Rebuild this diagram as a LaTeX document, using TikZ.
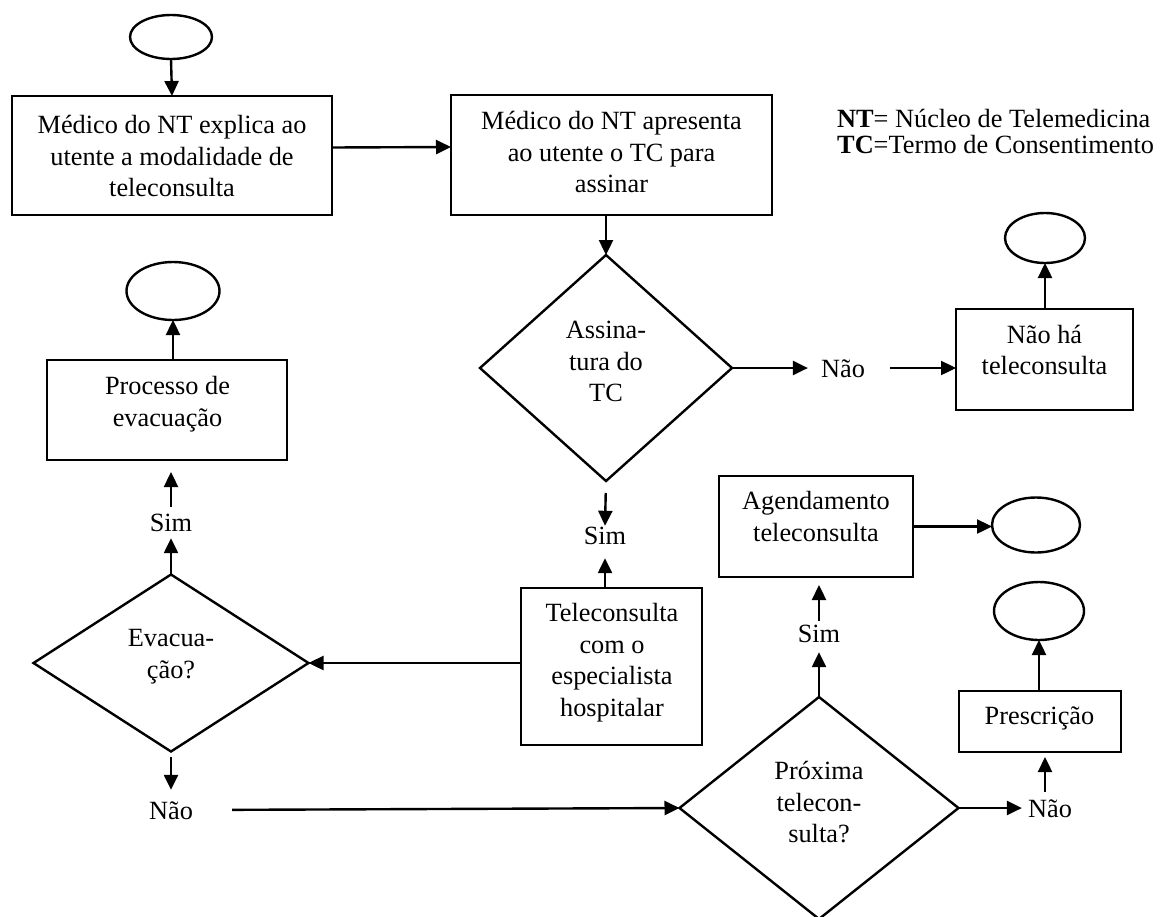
\documentclass[tikz,border=0pt]{standalone}
\usepackage{fontspec}
\setmainfont{Liberation Serif}
\usetikzlibrary{arrows.meta,shapes.geometric}
\newcommand\dfont{\fontsize{26.3}{31.5}\selectfont}
\newcommand\stack[1]{\begin{tabular}{@{}c@{}}#1\end{tabular}}

\begin{document}
\begin{tikzpicture}[x=1pt,y=-1pt,
  box/.style={draw, line width=2.6pt, rectangle, inner sep=0pt, outer sep=0pt},
  term/.style={draw, line width=2.4pt, ellipse, inner sep=0pt, outer sep=0pt},
  choice/.style={draw, line width=2.4pt, diamond, inner sep=0pt, outer sep=0pt},
  txt/.style={font=\dfont, inner sep=0pt},
  lbl/.style={font=\dfont, inner sep=0pt, text height=18pt, text depth=0pt},
  arr/.style={line width=2.4pt, -{Triangle[length=15pt,width=14pt]}}]
\useasboundingbox (0,0) rectangle (1162,916);

% terminators
\node[term, minimum width=82pt, minimum height=44pt] (e0) at (171,37) {};
\node[term, minimum width=80pt, minimum height=50pt] (e1) at (1045,238) {};
\node[term, minimum width=93pt, minimum height=58pt] (e2) at (173,291) {};
\node[term, minimum width=88pt, minimum height=55pt] (e3) at (1036,525) {};
\node[term, minimum width=90pt, minimum height=58pt] (e4) at (1039,611) {};

% process boxes
\node[box, minimum width=320pt, minimum height=119pt] (b1) at (172,155.5) {};
\node[txt] (b1t) at (172,159) {\stack{Médico do NT explica ao\\utente a modalidade de\\teleconsulta}};
\node[box, minimum width=321pt, minimum height=120pt] (b2) at (611.5,155) {};
\node[txt] (b2t) at (611.5,155) {\stack{Médico do NT apresenta\\ao utente o TC para\\assinar}};
\node[box, minimum width=177pt, minimum height=101pt] (b3) at (1044.5,359.5) {};
\node[txt] (b3t) at (1044.5,352.5) {\stack{Não há\\teleconsulta}};
\node[box, minimum width=240pt, minimum height=100pt] (b4) at (167,410) {};
\node[txt] (b4t) at (167.5,404) {\stack{Processo de\\evacuação}};
\node[box, minimum width=194pt, minimum height=101pt] (b5) at (816,526.5) {};
\node[txt] (b5t) at (816,519) {\stack{Agendamento\\teleconsulta}};
\node[box, minimum width=181pt, minimum height=157pt] (tc) at (611.5,666.5) {};
\node[txt] (tct) at (612,662.5) {\stack{Teleconsulta\\com o\\especialista\\hospitalar}};
\node[box, minimum width=162pt, minimum height=61pt] (b6) at (1040,721.5) {};
\node[txt] (b6t) at (1039.5,718) {Prescrição};

% decisions
\node[choice, minimum width=252pt, minimum height=226pt] (d1) at (606,368) {};
\node[txt] (d1t) at (606,364) {\stack{Assina-\\tura do\\TC}};
\node[choice, minimum width=275pt, minimum height=177pt] (d2) at (171,663) {};
\node[txt] (d2t) at (171,656) {\stack{Evacua-\\ção?}};
\node[choice, minimum width=279pt, minimum height=222pt] (d3) at (819,808) {};
\node[txt] (d3t) at (819,805) {\stack{Próxima\\telecon-\\sulta?}};

% branch labels
\node[lbl] (nao1) at (843,368) {Não};
\node[lbl] (sim1) at (605,535) {Sim};
\node[lbl] (sim2) at (171,522) {Sim};
\node[lbl] (nao2) at (171,810) {Não};
\node[lbl] (sim3) at (819,633) {Sim};
\node[lbl] (nao3) at (1050,808) {Não};

% legend
\node[font=\dfont, inner sep=0pt, anchor=west] (legend) at (837,135)
  {\renewcommand\arraystretch{0.83}\begin{tabular}{@{}l@{}}\textbf{NT}= Núcleo de Telemedicina\\\textbf{TC}=Termo de Consentimento\end{tabular}};

% connectors
\draw[arr] (e0.south) -- (b1.north);
\draw[arr] ([yshift=8pt]b1.east) -- ([yshift=8pt]b2.west);
\draw[arr] (b2.south -| d1.north) -- (d1.north);
\draw[arr, shorten >=13pt] (d1.east) -- (nao1.west);
\draw[arr, shorten <=25pt] (nao1.east) -- (nao1.east -| b3.west);
\draw[arr] (b3.north -| e1.south) -- (e1.south);
\draw[arr, shorten <=12pt] (d1.south) -- (sim1.north);
\draw[arr, shorten >=14pt] (tc.north -| sim1.south) -- (sim1.south);
\draw[arr] (tc.west |- d2.east) -- (d2.east);
\draw[arr, shorten >=7pt] (d2.north) -- (sim2.south);
\draw[arr, shorten <=6pt, shorten >=12pt] (sim2.north) -- (sim2.north |- b4.south);
\draw[arr] (b4.north -| e2.south) -- (e2.south);
\draw[arr, shorten <=5pt, shorten >=11pt] (d2.south) -- (nao2.north);
\draw[arr, shorten <=39pt] (nao2.east) -- (d3.west);
\draw[arr, shorten >=10pt] (d3.north) -- (sim3.south);
\draw[arr, shorten <=3pt, shorten >=8pt] (sim3.north) -- (sim3.north |- b5.south);
\draw[arr] (b5.east) -- (b5.east -| e3.west);
\draw[arr, shorten >=6pt] (d3.east) -- (nao3.west);
\draw[arr, shorten <=7pt, shorten >=5pt] ([xshift=-5pt]nao3.north) -- ([xshift=-5pt]nao3.north |- b6.south);
\draw[arr] (b6.north -| e4.south) -- (e4.south);
\end{tikzpicture}
\end{document}
